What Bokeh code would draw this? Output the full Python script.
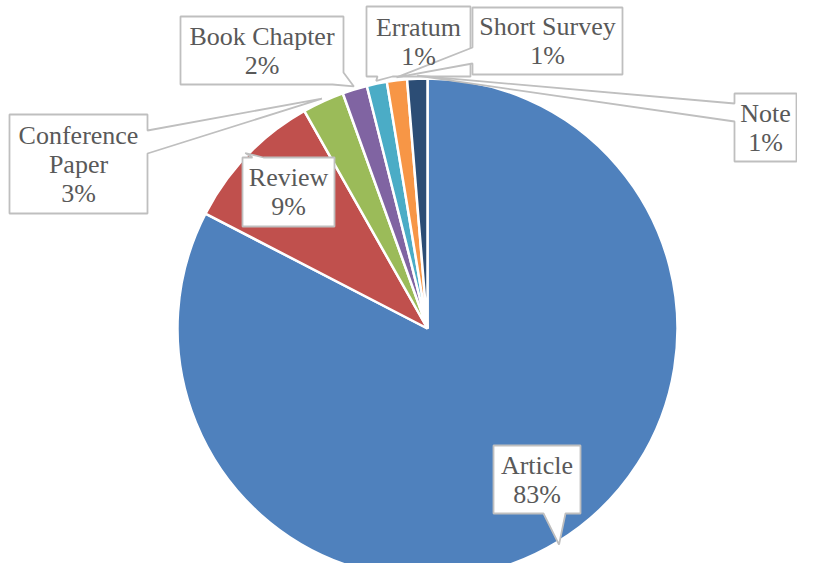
import numpy as np
from bokeh.plotting import figure
from bokeh.models import Range1d
from bokeh.embed import file_html
from bokeh.resources import INLINE
from bokeh.core.properties import value

# ---- data ----
categories = ["Article", "Review", "Conference Paper", "Book Chapter",
              "Erratum", "Short Survey", "Note"]
shares = [82.6, 9.2, 2.7, 1.6, 1.3, 1.3, 1.3]
colors = ["#4F81BD", "#C0504D", "#9BBB59", "#8064A2",
          "#4BACC6", "#F79646", "#2C4D75"]

# ---- layout (reference pixel coordinates, y downward) ----
W, H = 813, 579
CX, CY, R = 427, 328, 250
label_layout = {
    "Article":          dict(box=(493, 445, 580, 513), side="bottom", a=543, b=565, lines=["Article"]),
    "Review":           dict(box=(242, 157, 334, 226), side="top", a=252, b=263, lines=["Review"]),
    "Conference Paper": dict(box=(9, 114, 147, 213), side="right", a=130, b=153, lines=["Conference", "Paper"]),
    "Book Chapter":     dict(box=(180, 16, 343, 84), side="br", a=72, b=332, lines=["Book Chapter"]),
    "Erratum":          dict(box=(366, 6, 470, 76), side="bottom", a=377, b=392, lines=["Erratum"]),
    "Short Survey":     dict(box=(472, 7, 622, 74), side="left", a=47, b=63, lines=["Short Survey"]),
    "Note":             dict(box=(734, 93, 796, 161), side="left", a=103, b=121, lines=["Note"]),
}
FONT = "Liberation Serif"
FSIZE = 26
LINE_H = 29

p = figure(width=797, height=563, output_backend="svg", toolbar_location=None,
           x_range=Range1d(0, 797), y_range=Range1d(H - 563, H),
           min_border=0, outline_line_color=None, background_fill_color="white",
           border_fill_color="white")
p.axis.visible = False
p.grid.visible = False

frac = np.array(shares) / sum(shares)
cum = np.concatenate([[0.0], np.cumsum(frac)])
start = np.pi / 2 - 2 * np.pi * cum[1:]
end = np.pi / 2 - 2 * np.pi * cum[:-1]

p.wedge(x=CX, y=H - CY, radius=R, start_angle=list(start), end_angle=list(end),
        fill_color=colors, line_color="white", line_width=2.5)

mid = (cum[:-1] + cum[1:]) / 2
theta = np.pi / 2 - 2 * np.pi * mid
tips_x = CX + (R + 3) * np.cos(theta)
tips_y = CY - (R + 3) * np.sin(theta)   # reference (y down)


def callout(box, side, a, b, tip):
    x0, y0, x1, y1 = box
    TL, TR, BR, BL = (x0, y0), (x1, y0), (x1, y1), (x0, y1)
    if side == "top":
        pts = [TL, (a, y0), tip, (b, y0), TR, BR, BL]
    elif side == "right":
        pts = [TL, TR, (x1, a), tip, (x1, b), BR, BL]
    elif side == "bottom":
        pts = [TL, TR, BR, (b, y1), tip, (a, y1), BL]
    elif side == "left":
        pts = [TL, TR, BR, BL, (x0, b), tip, (x0, a)]
    else:  # bottom-right corner
        pts = [TL, TR, (x1, a), tip, (b, y1), BL]
    return [q[0] for q in pts], [H - q[1] for q in pts]


xs, ys = [], []
tx, ty, tt = [], [], []
for i, cat in enumerate(categories):
    lay = label_layout[cat]
    px, py = callout(lay["box"], lay["side"], lay["a"], lay["b"], (tips_x[i], tips_y[i]))
    xs.append(px)
    ys.append(py)
    lines = lay["lines"] + [f"{int(round(100 * frac[i]))}%"]
    x0, y0, x1, y1 = lay["box"]
    cxb, cyb = (x0 + x1) / 2, (y0 + y1) / 2
    n = len(lines)
    for k, ln in enumerate(lines):
        tx.append(cxb)
        ty.append(H - (cyb + (k - (n - 1) / 2) * LINE_H))
        tt.append(ln)

p.patches(xs=xs, ys=ys, fill_color="white", line_color="#BFBFBF", line_width=1.8)
p.text(x=tx, y=ty, text=tt, text_font=value(FONT), text_font_size=f"{FSIZE}px",
       text_color="#595959", text_align="center", text_baseline="middle")

open("out.html", "w").write(file_html(p, INLINE))
